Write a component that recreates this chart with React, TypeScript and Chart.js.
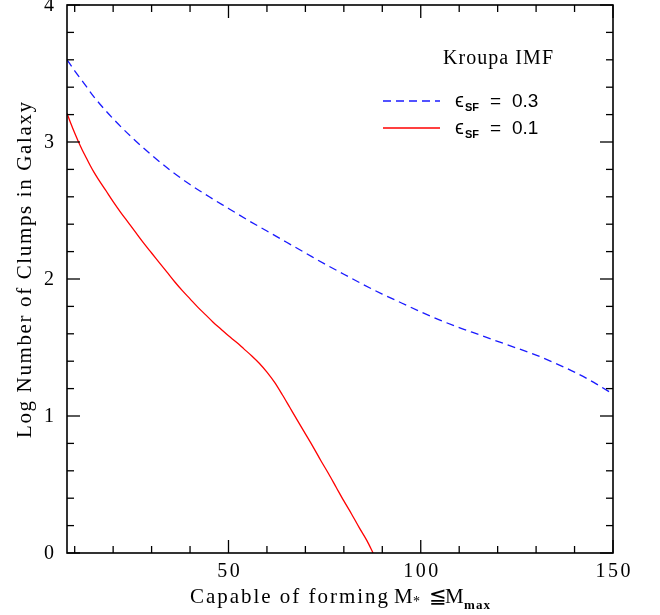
import { useEffect, useRef } from 'react';
import { Chart, registerables } from 'chart.js';
Chart.register(...registerables);

// ---- data ----
const blueX = [8, 10, 12, 15, 20, 25, 30, 35, 40, 45, 50, 55, 60, 65, 70, 75, 80, 85, 90, 95, 100, 105, 110, 115, 120, 125, 130, 135, 140, 145, 150];
const blueY = [3.60, 3.52, 3.445, 3.33, 3.17, 3.03, 2.905, 2.79, 2.69, 2.60, 2.515, 2.43, 2.35, 2.27, 2.19, 2.11, 2.035, 1.96, 1.89, 1.825, 1.76, 1.70, 1.645, 1.595, 1.545, 1.495, 1.445, 1.385, 1.32, 1.245, 1.16];
const redX = [8, 9, 10, 11, 12, 13, 14, 15, 16, 18, 20, 22, 24, 26, 28, 30, 32, 34, 36, 38, 40, 42, 44, 46, 48, 50, 52, 54, 56, 58, 60, 62, 64, 66, 68, 70, 72, 74, 76, 78, 80, 82, 84, 86, 87.6];
const redY = [3.21, 3.135, 3.065, 3.00, 2.94, 2.885, 2.83, 2.78, 2.735, 2.65, 2.565, 2.485, 2.41, 2.335, 2.26, 2.19, 2.12, 2.05, 1.98, 1.915, 1.855, 1.795, 1.74, 1.685, 1.635, 1.585, 1.54, 1.49, 1.44, 1.385, 1.32, 1.245, 1.155, 1.06, 0.965, 0.87, 0.775, 0.675, 0.58, 0.48, 0.38, 0.285, 0.185, 0.09, 0.0];

const xMajorTicks = [50, 100, 150];
const xMinorTicks = [10, 20, 30, 40, 60, 70, 80, 90, 110, 120, 130, 140];
const yMajorTicks = [0, 1, 2, 3, 4];
const yMinorTicks = [0.2, 0.4, 0.6, 0.8, 1.2, 1.4, 1.6, 1.8, 2.2, 2.4, 2.6, 2.8, 3.2, 3.4, 3.6, 3.8];

const seriesLabels = ['0.3', '0.1'];
const legendTitle = 'Kroupa IMF';
const xTitle = 'Capable of forming';
const yTitle = 'Log Number of Clumps in Galaxy';

const SERIF = "'Liberation Serif', 'DejaVu Serif', serif";
const SANS = "'Liberation Sans', 'DejaVu Sans', sans-serif";

function spaced(ctx: CanvasRenderingContext2D, text: string, x: number, y: number, width: number) {
  const chars = text.split('');
  const widths = chars.map((c) => ctx.measureText(c).width);
  const natural = widths.reduce((a, b) => a + b, 0);
  const gap = chars.length > 1 ? (width - natural) / (chars.length - 1) : 0;
  let cx = x;
  ctx.textAlign = 'left';
  chars.forEach((c, i) => {
    ctx.fillText(c, cx, y);
    cx += widths[i] + gap;
  });
}

function spacedCenter(ctx: CanvasRenderingContext2D, text: string, cx: number, y: number, gap: number) {
  const chars = text.split('');
  const widths = chars.map((c) => ctx.measureText(c).width);
  const total = widths.reduce((a, b) => a + b, 0) + gap * (chars.length - 1);
  spaced(ctx, text, cx - total / 2, y, total);
}

const decorPlugin = {
  id: 'decor',
  afterDraw(chart: any) {
    const ctx: CanvasRenderingContext2D = chart.ctx;
    const { left, right, top, bottom } = chart.chartArea;
    const xs = chart.scales.x;
    const ys = chart.scales.y;
    ctx.save();
    ctx.strokeStyle = '#000';
    ctx.lineWidth = 1.6;
    ctx.strokeRect(left, top, right - left, bottom - top);
    ctx.lineWidth = 1.3;
    const tick = (x1: number, y1: number, x2: number, y2: number) => {
      ctx.beginPath();
      ctx.moveTo(x1, y1);
      ctx.lineTo(x2, y2);
      ctx.stroke();
    };
    xMinorTicks.forEach((v) => {
      const p = xs.getPixelForValue(v);
      tick(p, bottom, p, bottom - 7);
      tick(p, top, p, top + 7);
    });
    xMajorTicks.forEach((v) => {
      const p = xs.getPixelForValue(v);
      tick(p, bottom, p, bottom - 13);
      tick(p, top, p, top + 13);
    });
    yMinorTicks.forEach((v) => {
      const p = ys.getPixelForValue(v);
      tick(left, p, left + 7, p);
      tick(right, p, right - 7, p);
    });
    yMajorTicks.forEach((v) => {
      const p = ys.getPixelForValue(v);
      tick(left, p, left + 13, p);
      tick(right, p, right - 13, p);
    });

    // tick labels
    ctx.fillStyle = '#000';
    ctx.font = `20px ${SERIF}`;
    ctx.textBaseline = 'middle';
    yMajorTicks.forEach((v) => {
      spacedCenter(ctx, String(v), 49, ys.getPixelForValue(v) + 1, 2);
    });
    xMajorTicks.forEach((v) => {
      spacedCenter(ctx, String(v), xs.getPixelForValue(v), 572, 2.5);
    });

    // x title
    ctx.font = `21px ${SERIF}`;
    ctx.textBaseline = 'alphabetic';
    spaced(ctx, xTitle, 190, 603, 198);
    ctx.textAlign = 'left';
    ctx.fillText('M', 394, 603);
    ctx.font = `14px ${SERIF}`;
    ctx.fillText('*', 413, 606);
    ctx.font = `21px ${SERIF}`;
    ctx.fillText('\u2266', 429, 603);
    ctx.fillText('M', 445, 603);
    ctx.font = `bold 13px ${SERIF}`;
    spaced(ctx, 'max', 464, 609, 26);

    // y title
    ctx.save();
    ctx.translate(31, 270);
    ctx.rotate(-Math.PI / 2);
    ctx.font = `21px ${SERIF}`;
    ctx.textBaseline = 'alphabetic';
    spaced(ctx, yTitle, -168, 0, 336);
    ctx.restore();

    // legend
    ctx.font = `20px ${SERIF}`;
    ctx.textBaseline = 'alphabetic';
    spaced(ctx, legendTitle, 443, 64, 110);
    const rows = [
      { y: 101, color: '#1a1aff', dash: [8, 5] },
      { y: 128, color: '#ff0000', dash: [] as number[] },
    ];
    rows.forEach((r, i) => {
      ctx.strokeStyle = r.color;
      ctx.lineWidth = 1.3;
      ctx.setLineDash(r.dash);
      tick(383, r.y, 440, r.y);
      ctx.setLineDash([]);
      ctx.fillStyle = '#000';
      ctx.font = `20px ${SANS}`;
      ctx.textAlign = 'left';
      ctx.fillText('\u03f5', 455, r.y + 6);
      ctx.font = `bold 11px ${SANS}`;
      ctx.fillText('SF', 465, r.y + 10);
      ctx.font = `19px ${SANS}`;
      ctx.fillText('=', 490, r.y + 6);
      ctx.fillText(seriesLabels[i], 512, r.y + 6);
    });
    ctx.restore();
  },
};

export default function App() {
  const ref = useRef<HTMLCanvasElement>(null);
  useEffect(() => {
    if (!ref.current) return;
    const chart = new Chart(ref.current, {
      type: 'line',
      data: {
        datasets: [
          {
            label: '0.3',
            data: blueX.map((x, i) => ({ x, y: blueY[i] })),
            borderColor: '#1a1aff',
            borderWidth: 1.3,
            borderDash: [8, 5],
            pointRadius: 0,
            cubicInterpolationMode: 'monotone',
            fill: false,
          },
          {
            label: '0.1',
            data: redX.map((x, i) => ({ x, y: redY[i] })),
            borderColor: '#ff0000',
            borderWidth: 1.3,
            pointRadius: 0,
            cubicInterpolationMode: 'monotone',
            fill: false,
          },
        ],
      },
      options: {
        animation: false,
        responsive: false,
        maintainAspectRatio: false,
        layout: { padding: { left: 67, right: 47, top: 5, bottom: 62 } },
        plugins: { legend: { display: false }, tooltip: { enabled: false } },
        scales: {
          x: { type: 'linear', min: 8, max: 150, display: false },
          y: { type: 'linear', min: 0, max: 4, display: false },
        },
      },
      plugins: [decorPlugin],
    } as any);
    return () => chart.destroy();
  }, []);
  return (
    <div style={{ position: 'fixed', left: 0, top: 0, width: 660, height: 615, background: '#fff' }}>
      <canvas ref={ref} width={660} height={615} />
    </div>
  );
}
